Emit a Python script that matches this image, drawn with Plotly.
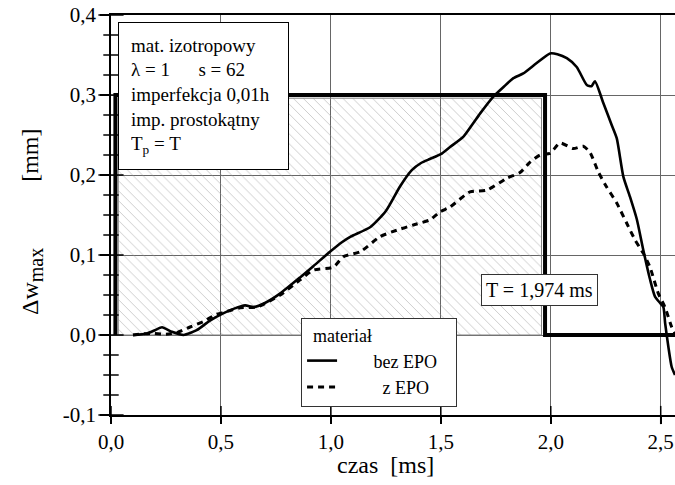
import plotly.graph_objects as go

# ---- data ----
t_bez = [0.10, 0.164, 0.20, 0.232, 0.277, 0.33, 0.39, 0.45, 0.51, 0.56, 0.61, 0.65, 0.70, 0.77, 0.86, 0.92,
         1.0, 1.05, 1.09, 1.18, 1.25, 1.315, 1.368, 1.41, 1.45, 1.50, 1.542, 1.603, 1.648, 1.679, 1.739,
         1.785, 1.83, 1.875, 1.936, 1.997, 2.03, 2.073, 2.118, 2.164, 2.185, 2.201, 2.239, 2.277, 2.30,
         2.33, 2.36, 2.391, 2.421, 2.451, 2.474, 2.497, 2.512, 2.52, 2.535, 2.55, 2.565]
w_bez = [0.0, 0.002, 0.006, 0.0096, 0.004, 0.0, 0.006, 0.018, 0.027, 0.033, 0.037, 0.035, 0.040, 0.052, 0.072, 0.086,
         0.105, 0.116, 0.123, 0.135, 0.155, 0.186, 0.206, 0.215, 0.220, 0.226, 0.235, 0.248, 0.265, 0.277, 0.298,
         0.310, 0.321, 0.327, 0.340, 0.352, 0.351, 0.346, 0.335, 0.3125, 0.311, 0.317, 0.290, 0.2625, 0.246,
         0.198, 0.173, 0.145, 0.106, 0.070, 0.048, 0.040, 0.035, 0.015, -0.015, -0.040, -0.050]

t_z = [0.10, 0.179, 0.25, 0.30, 0.36, 0.421, 0.48, 0.51, 0.588, 0.664, 0.77, 0.86, 0.92, 1.012, 1.057, 1.133,
       1.224, 1.30, 1.375, 1.451, 1.497, 1.542, 1.633, 1.709, 1.80, 1.86, 1.906, 1.951, 1.997, 2.042, 2.103,
       2.148, 2.179, 2.216, 2.254, 2.30, 2.345, 2.383, 2.421, 2.451, 2.489, 2.519, 2.55, 2.565]
w_z = [0.0, 0.002, 0.001, 0.003, 0.010, 0.017, 0.026, 0.028, 0.034, 0.035, 0.050, 0.069, 0.081, 0.085, 0.098, 0.104,
       0.123, 0.131, 0.1375, 0.144, 0.154, 0.160, 0.179, 0.181, 0.196, 0.203, 0.216, 0.225, 0.227, 0.240, 0.233,
       0.236, 0.228, 0.204, 0.185, 0.165, 0.140, 0.119, 0.102, 0.085, 0.052, 0.035, 0.010, 0.002]

pulse_t = [0.02, 0.02, 1.974, 1.974, 2.62]
pulse_w = [0.0, 0.30, 0.30, 0.0, 0.0]

hatch_t = [0.033, 0.033, 1.958, 1.958, 0.033]
hatch_w = [0.0, 0.296, 0.296, 0.0, 0.0]

x_ticks = [0.0, 0.5, 1.0, 1.5, 2.0, 2.5]
x_ticktext = ["0,0", "0,5", "1,0", "1,5", "2,0", "2,5"]
y_ticks = [-0.1, 0.0, 0.1, 0.2, 0.3, 0.4]
y_ticktext = ["-0,1", "0,0", "0,1", "0,2", "0,3", "0,4"]
y_minor = [-0.075, -0.05, -0.025, 0.025, 0.05, 0.075, 0.125, 0.15, 0.175,
           0.225, 0.25, 0.275, 0.325, 0.35, 0.375]

FONT = "Liberation Serif, Tinos, Times New Roman, serif"
NB = "\u00a0"

fig = go.Figure()

fig.add_trace(go.Scatter(
    x=hatch_t, y=hatch_w, mode="lines", fill="toself",
    fillcolor="rgba(0,0,0,0)",
    fillpattern=dict(shape="\\", fgcolor="#999999", size=7, solidity=0.14, fillmode="overlay"),
    line=dict(color="#808080", width=1), showlegend=False, hoverinfo="skip"))

fig.add_trace(go.Scatter(
    x=pulse_t, y=pulse_w, mode="lines", line=dict(color="black", width=4),
    showlegend=False, hoverinfo="skip"))

fig.add_trace(go.Scatter(
    x=t_bez, y=w_bez, mode="lines", name=NB * 7 + "bez EPO" + NB * 3,
    line=dict(color="black", width=2.6, shape="spline", smoothing=0.6)))

fig.add_trace(go.Scatter(
    x=t_z, y=w_z, mode="lines", name=NB * 9 + "z EPO",
    line=dict(color="black", width=3, dash="6px,5px", shape="spline", smoothing=0.6)))

# tick marks on the y axis (placed on the axis line at x = 0)
fig.add_trace(go.Scatter(
    x=[0.0] * len(y_minor), y=y_minor, mode="markers", cliponaxis=False,
    marker=dict(symbol="line-ew", size=11, color="black", line=dict(color="black", width=1.5)),
    showlegend=False, hoverinfo="skip"))
fig.add_trace(go.Scatter(
    x=[0.0] * len(y_ticks), y=y_ticks, mode="markers", cliponaxis=False,
    marker=dict(symbol="line-ew", size=18, color="black", line=dict(color="black", width=1.5)),
    showlegend=False, hoverinfo="skip"))
# tick marks on the x axis (crossing the axis line at y = -0.1)
fig.add_trace(go.Scatter(
    x=x_ticks, y=[-0.1] * len(x_ticks), mode="markers", cliponaxis=False,
    marker=dict(symbol="line-ns", size=13, color="black", line=dict(color="black", width=1.5)),
    showlegend=False, hoverinfo="skip"))

fig.add_annotation(
    xref="paper", yref="paper", x=0.0124, y=0.9825, xanchor="left", yanchor="top",
    text=("mat. izotropowy<br>λ = 1" + NB * 6 + "s = 62<br>imperfekcja 0,01h<br>"
          "imp. prostokątny<br>T<sub>p</sub> = T"),
    align="left", valign="middle", showarrow=False,
    font=dict(family=FONT, size=19, color="black"),
    bgcolor="white", bordercolor="black", borderwidth=1, borderpad=12,
    width=145, height=122)

fig.add_annotation(
    xref="x", yref="y", x=1.951, y=0.056, xanchor="center", yanchor="middle",
    text="T = 1,974 ms", showarrow=False,
    font=dict(family=FONT, size=20, color="black"),
    bgcolor="white", bordercolor="#333", borderwidth=1, borderpad=4)

# axis titles
fig.add_annotation(
    xref="paper", yref="paper", x=0.486, y=-0.125, xanchor="center", yanchor="middle",
    text="czas  [ms]", showarrow=False, font=dict(family=FONT, size=24, color="black"))
fig.add_annotation(
    xref="paper", yref="paper", x=-0.140, y=0.4825, xanchor="center", yanchor="middle",
    textangle=-90, showarrow=False,
    text="Δw<sub><span style='font-size:20px'>max</span></sub>" + NB * 11 + "[mm]",
    font=dict(family=FONT, size=24, color="black"))

fig.update_layout(
    width=675, height=485,
    margin=dict(l=111, r=0, t=15, b=70),
    paper_bgcolor="white", plot_bgcolor="white",
    font=dict(family=FONT, size=19, color="black"),
    showlegend=True,
    legend=dict(
        x=0.337, y=0.2425, xanchor="left", yanchor="top",
        bgcolor="white", bordercolor="#333", borderwidth=1,
        font=dict(family=FONT, size=18, color="black"),
        title=dict(text=NB * 2 + "materiał", font=dict(family=FONT, size=18)),
        tracegroupgap=0),
    xaxis=dict(
        range=[0, 2.565], tickvals=x_ticks, ticktext=x_ticktext,
        showgrid=True, gridcolor="#666", gridwidth=1,
        showline=True, linecolor="black", linewidth=1.5, mirror=True,
        ticks="outside", ticklen=7, tickwidth=1.5, tickcolor="black",
        zeroline=False, tickfont=dict(family=FONT, size=21)),
    yaxis=dict(
        range=[-0.1, 0.4], tickvals=y_ticks, ticktext=y_ticktext,
        showgrid=True, gridcolor="#666", gridwidth=1,
        showline=True, linecolor="black", linewidth=1.5, mirror=False,
        ticks="outside", ticklen=9, tickwidth=1.5, tickcolor="black",
        zeroline=False, tickfont=dict(family=FONT, size=21)),
)

fig.write_html("out.html")
